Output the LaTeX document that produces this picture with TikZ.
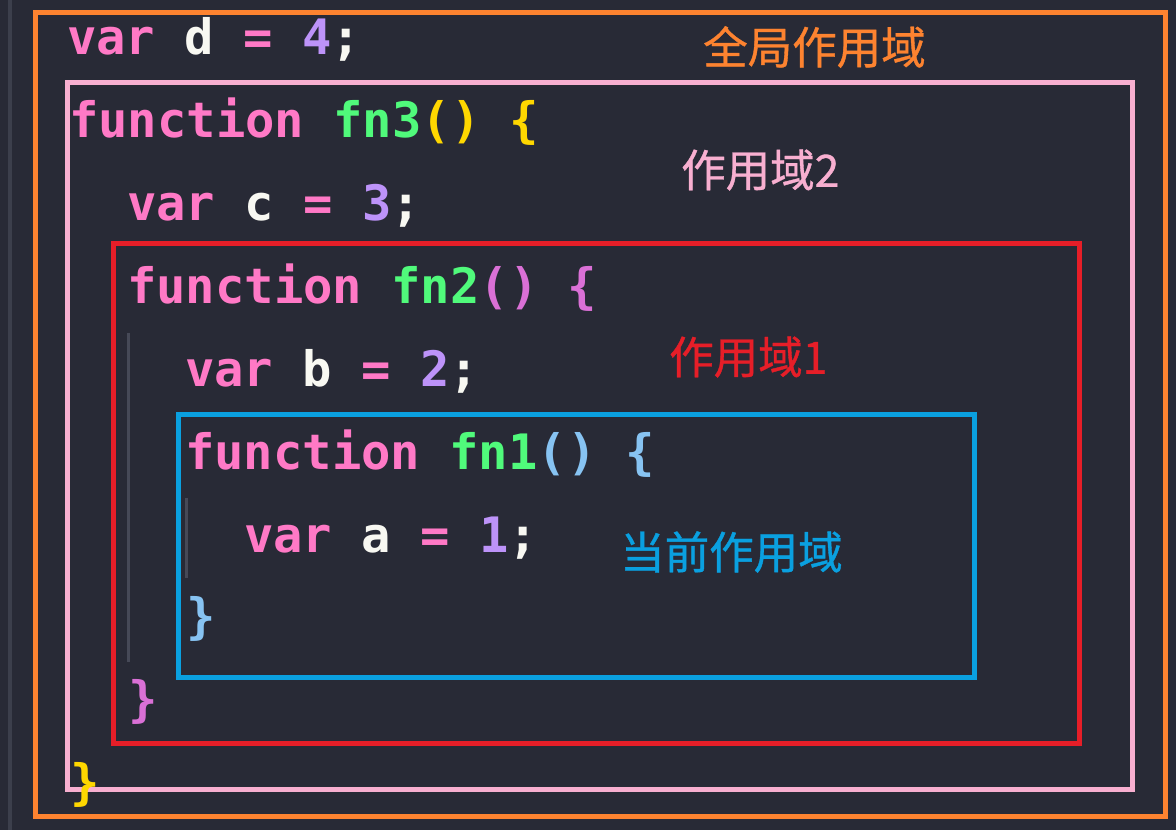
\documentclass[tikz,border=0pt]{standalone}
\usepackage{fontspec}
\newfontfamily\codefont{DejaVu Sans Mono}
\newfontfamily\cjk[FakeBold=0.8]{Noto Sans CJK SC}
\definecolor{bg}{HTML}{282A36}
\definecolor{kw}{HTML}{FF79C6}
\definecolor{fnc}{HTML}{50FA7B}
\definecolor{num}{HTML}{BD93F9}
\definecolor{idc}{HTML}{F8F8F2}
\definecolor{brY}{HTML}{FFD700}
\definecolor{brP}{HTML}{DA70D6}
\definecolor{brB}{HTML}{87C3F2}
\definecolor{boxO}{HTML}{FD8330}
\definecolor{boxP}{HTML}{F8AFD0}
\definecolor{boxR}{HTML}{E61E28}
\definecolor{boxB}{HTML}{0AA0E0}
\definecolor{guide}{HTML}{464957}
\definecolor{gutter}{HTML}{3C3F4C}
\tikzset{
  code/.style={anchor=base west,inner sep=0pt,font=\codefont\bfseries\fontsize{48.8}{48.8}\selectfont},
  lbl/.style={anchor=west,inner sep=0pt,font=\cjk\fontsize{44.5}{44.5}\selectfont},
  scopebox/.style={line width=5pt},
  guideline/.style={line width=3pt,color=guide},
}
\newcommand{\K}[1]{\textcolor{kw}{#1}}
\newcommand{\F}[1]{\textcolor{fnc}{#1}}
\newcommand{\N}[1]{\textcolor{num}{#1}}
\newcommand{\I}[1]{\textcolor{idc}{#1}}
\begin{document}
\begin{tikzpicture}[x=1pt,y=-1pt]
\fill[bg] (0,0) rectangle (1176,830);
\useasboundingbox (0,0) rectangle (1176,830);
% gutter and indent guides
\draw[line width=4pt,color=gutter] (10,0) -- (10,830);
\coordinate (g1a) at (128,333); \coordinate (g1b) at (128,662);
\coordinate (g2a) at (186,498); \coordinate (g2b) at (186,578);
\draw[guideline] (g1a) -- (g1b);
\draw[guideline] (g2a) -- (g2b);
% scope boxes
\draw[scopebox,boxO] (35.5,12.5) rectangle (1165,816);
\draw[scopebox,boxP] (67.5,82) rectangle (1132,789);
\draw[scopebox,boxR] (113.5,243.5) rectangle (1079,743);
\draw[scopebox,boxB] (178,414) rectangle (974,677);
% code
\node[code] (l1) at (67,54) {\K{var} \I{d} \K{=} \N{4}\I{;}};
\node[code] (l2) at (69,137) {\K{function} \F{fn3}\textcolor{brY}{()} \textcolor{brY}{\{}};
\node[code] (l3) at (127,220) {\K{var} \I{c} \K{=} \N{3}\I{;}};
\node[code] (l4) at (127,303) {\K{function} \F{fn2}\textcolor{brP}{()} \textcolor{brP}{\{}};
\node[code] (l5) at (185,386) {\K{var} \I{b} \K{=} \N{2}\I{;}};
\node[code] (l6) at (185,469) {\K{function} \F{fn1}\textcolor{brB}{()} \textcolor{brB}{\{}};
\node[code] (l7) at (244,552) {\K{var} \I{a} \K{=} \N{1}\I{;}};
\node[code] (l8) at (186,633) {\textcolor{brB}{\}}};
\node[code] (l9) at (128,716) {\textcolor{brP}{\}}};
\node[code] (l10) at (70,799) {\textcolor{brY}{\}}};
% labels
\node[lbl,text=boxO] (t1) at (703,47) {全局作用域};
\node[lbl,text=boxP] (t2) at (681,170) {作用域2};
\node[lbl,text=boxR] (t3) at (669,357) {作用域1};
\node[lbl,text=boxB] (t4) at (620,552) {当前作用域};
\end{tikzpicture}
\end{document}
